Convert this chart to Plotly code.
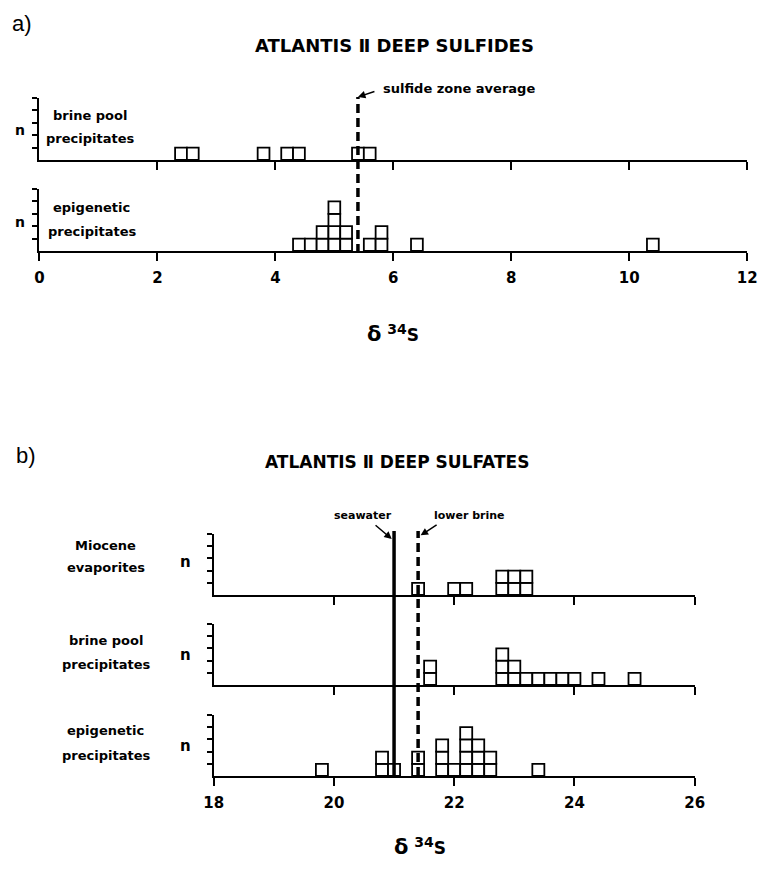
import plotly.graph_objects as go

# page is 766x869; body margin is 8px, so the figure is made to fit inside it
PAGE_W, PAGE_H = 766, 869
OFF = 8
W, H = PAGE_W - OFF, PAGE_H - 2 * OFF

# ---------------- data ----------------
# a) sulfides: bin centres (delta 34S, permil) and counts n
sulfide_brine_x = [2.4, 2.6, 3.8, 4.2, 4.4, 5.4, 5.6]
sulfide_brine_n = [1, 1, 1, 1, 1, 1, 1]
sulfide_epi_x = [4.4, 4.6, 4.8, 5.0, 5.2, 5.6, 5.8, 6.4, 10.4]
sulfide_epi_n = [1, 1, 2, 4, 2, 1, 2, 1, 1]
sulfide_zone_average = 5.4

# b) sulfates
sulfate_miocene_x = [21.4, 22.0, 22.2, 22.8, 23.0, 23.2]
sulfate_miocene_n = [1, 1, 1, 2, 2, 2]
sulfate_brine_x = [21.6, 22.8, 23.0, 23.2, 23.4, 23.6, 23.8, 24.0, 24.4, 25.0]
sulfate_brine_n = [2, 3, 2, 1, 1, 1, 1, 1, 1, 1]
sulfate_epi_x = [19.8, 20.8, 21.0, 21.4, 21.8, 22.0, 22.2, 22.4, 22.6, 23.4]
sulfate_epi_n = [1, 2, 1, 2, 3, 1, 4, 3, 2, 1]
seawater = 21.0
lower_brine = 21.4

bin_width = 0.2
sulfide_ticks = [0, 2, 4, 6, 8, 10, 12]
sulfate_ticks = [18, 20, 22, 24, 26]
n_ticks = [1, 2, 3, 4, 5]

# ---------------- helpers (page pixel -> paper) ----------------
SX = 1.02  # slight horizontal stretch about the page centre

def sx(x):
    return 395 + (x - 395) * SX

def px(x, stretch=True):
    xs = sx(x) if stretch else x
    return (xs - OFF) / W

def py(y):
    return 1 - (y - OFF) / H

def boxes(xs, ns):
    bx, bb = [], []
    for x, n in zip(xs, ns):
        for k in range(n):
            bx.append(x)
            bb.append(k)
    return bx, bb

FONT = "DejaVu Sans"

fig = go.Figure()

panels = [
    (sulfide_brine_x, sulfide_brine_n, ""),
    (sulfide_epi_x, sulfide_epi_n, "2"),
    (sulfate_miocene_x, sulfate_miocene_n, "3"),
    (sulfate_brine_x, sulfate_brine_n, "4"),
    (sulfate_epi_x, sulfate_epi_n, "5"),
]
for xs, ns, s in panels:
    bx, bb = boxes(xs, ns)
    fig.add_trace(go.Bar(
        x=bx, y=[1] * len(bx), base=bb, width=bin_width,
        marker=dict(color="white", line=dict(color="black", width=1.8)),
        xaxis="x" + s, yaxis="y" + s, hoverinfo="skip", showlegend=False,
    ))

def xaxis(x0, x1, rng, tickvals, labels, anchor):
    return dict(
        domain=[px(x0, False), px(x1, False)], range=rng, anchor=anchor,
        showline=True, linecolor="black", linewidth=2,
        ticks="outside", ticklen=8, tickwidth=2, tickcolor="black",
        tickvals=tickvals, showticklabels=labels,
        tickfont=dict(family=FONT, size=15, color="black", weight="bold"),
        ticklabelstandoff=4,
        showgrid=False, zeroline=False, fixedrange=True,
    )

def yaxis(ytop, ybot, anchor):
    return dict(
        domain=[py(ybot), py(ytop)], range=[0, 5], anchor=anchor,
        showline=True, linecolor="black", linewidth=2,
        ticks="outside", ticklen=5, tickwidth=2, tickcolor="black",
        tickvals=n_ticks, showticklabels=False,
        showgrid=False, zeroline=False, fixedrange=True,
    )

TX0, TX1 = 30, 757
BX0, BX1 = 209, 703
layout_axes = dict(
    xaxis=xaxis(TX0, TX1, [0, 12], sulfide_ticks[1:], False, "y"),
    yaxis=yaxis(98, 160, "x"),
    xaxis2=xaxis(TX0, TX1, [0, 12], sulfide_ticks, True, "y2"),
    yaxis2=yaxis(189, 251, "x2"),
    xaxis3=xaxis(BX0, BX1, [18, 26], sulfate_ticks[1:], False, "y3"),
    yaxis3=yaxis(534, 595, "x3"),
    xaxis4=xaxis(BX0, BX1, [18, 26], sulfate_ticks[1:], False, "y4"),
    yaxis4=yaxis(624, 685, "x4"),
    xaxis5=xaxis(BX0, BX1, [18, 26], sulfate_ticks, True, "y5"),
    yaxis5=yaxis(715, 776, "x5"),
)

shapes = [
    dict(type="line", xref="x", yref="paper", x0=sulfide_zone_average, x1=sulfide_zone_average,
         y0=py(253), y1=py(97), line=dict(color="black", width=3.5, dash="9px,5px")),
    dict(type="line", xref="x3", yref="paper", x0=seawater, x1=seawater,
         y0=py(776), y1=py(531), line=dict(color="black", width=3.5)),
    dict(type="line", xref="x3", yref="paper", x0=lower_brine, x1=lower_brine,
         y0=py(776), y1=py(531), line=dict(color="black", width=3.5, dash="9px,5px")),
]

def txt(x, y, text, size=13, bold=True, xanchor="center", family=FONT, stretch=True):
    return dict(x=px(x, stretch), y=py(y), xref="paper", yref="paper", text=text,
                showarrow=False, xanchor=xanchor, yanchor="middle",
                font=dict(family=family, size=size, color="black",
                          weight="bold" if bold else "normal"))

DELTA = ('<span style="font-size:21px">δ</span> '
         '<sup><span style="font-size:14px">34</span></sup>S')
ann = [
    txt(20, 24, "a)", size=22, bold=False, family="Liberation Sans"),
    txt(395, 45, "ATLANTIS Ⅱ DEEP SULFIDES", size=18),
    txt(381, 88, "sulfide zone average", size=13, xanchor="left"),
    txt(88, 115, "brine pool", 13), txt(88, 139, "precipitates", 13),
    txt(90, 207, "epigenetic", 13), txt(90, 231, "precipitates", 13),
    txt(10, 130, "n", 14, stretch=False), txt(10, 222, "n", 14, stretch=False),
    txt(393, 333, DELTA, size=17),

    txt(24, 455, "b)", size=22, bold=False, family="Liberation Sans"),
    txt(397, 462, "ATLANTIS Ⅱ DEEP SULFATES", size=17),
    txt(363, 515, "seawater", 11), txt(470, 515, "lower brine", 11),
    txt(104, 545, "Miocene", 13), txt(104, 567, "evaporites", 13),
    txt(104, 640, "brine pool", 13), txt(104, 664, "precipitates", 13),
    txt(104, 730, "epigenetic", 13), txt(104, 755, "precipitates", 13),
    txt(184, 562, "n", 15), txt(184, 655, "n", 15), txt(184, 746, "n", 15),
    txt(420, 846, DELTA, size=17),
]

# arrows
ann += [
    dict(x=sulfide_zone_average, y=py(97), xref="x", yref="paper", text="",
         showarrow=True, arrowhead=2, arrowsize=1, arrowwidth=1.5, arrowcolor="black",
         ax=18, ay=-6),
    dict(x=seawater, y=py(541), xref="x3", yref="paper", text="",
         showarrow=True, arrowhead=2, arrowsize=1, arrowwidth=1.5, arrowcolor="black",
         ax=-20, ay=-17, standoff=3),
    dict(x=lower_brine, y=py(537), xref="x3", yref="paper", text="",
         showarrow=True, arrowhead=2, arrowsize=1, arrowwidth=1.5, arrowcolor="black",
         ax=20, ay=-13, standoff=3),
]

fig.update_layout(
    width=W, height=H, margin=dict(l=0, r=0, t=0, b=0),
    paper_bgcolor="white", plot_bgcolor="white",
    barmode="overlay", showlegend=False,
    shapes=shapes, annotations=ann,
    **layout_axes,
)

fig.write_html("out.html")
